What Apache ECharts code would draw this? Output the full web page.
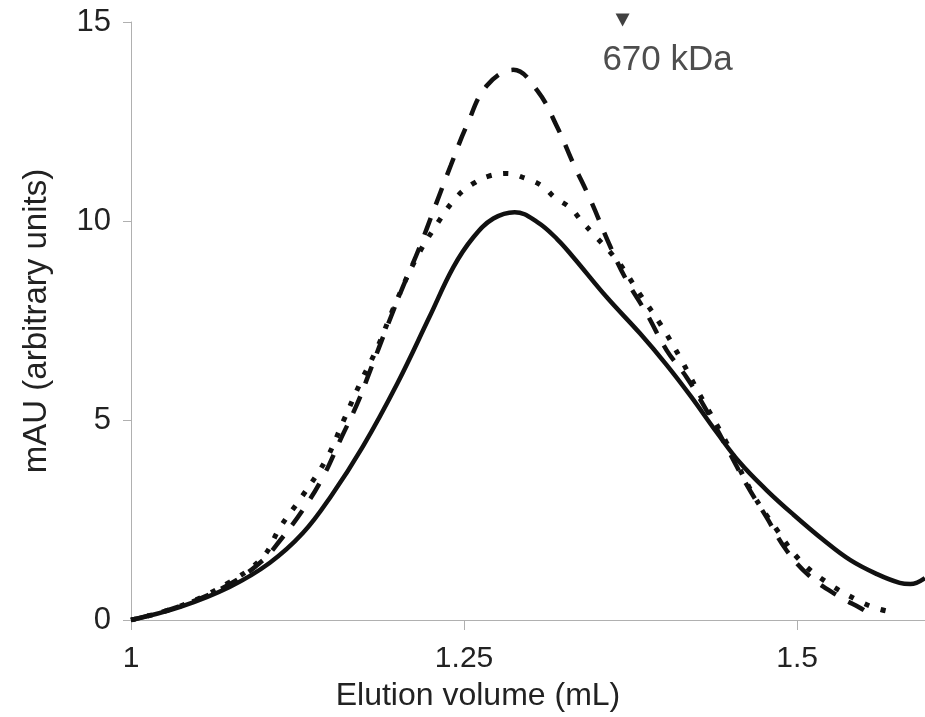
<!DOCTYPE html>
<html>
<head>
<meta charset="utf-8">
<script src="https://cdn.jsdelivr.net/npm/echarts@6/dist/echarts.min.js"></script>
<style>
  html, body { margin: 0; padding: 0; background: #fff; }
  #chart { width: 925px; height: 717px; }
</style>
</head>
<body>
<div id="chart"></div>
<script>
// elution traces: [volume (mL), mAU]
const solidTrace = [
  [1.000, 0], [1.037, 0.33], [1.074, 0.83], [1.104, 1.43], [1.129, 2.18],
  [1.150, 3.1], [1.174, 4.35], [1.200, 5.94], [1.224, 7.6], [1.242, 8.85],
  [1.257, 9.6], [1.272, 10.07], [1.288, 10.23], [1.305, 9.98], [1.320, 9.55],
  [1.332, 9.1], [1.357, 8.1], [1.382, 7.19], [1.402, 6.4], [1.420, 5.62],
  [1.440, 4.69], [1.457, 3.95], [1.477, 3.26], [1.497, 2.65], [1.520, 2.0],
  [1.540, 1.5], [1.560, 1.15], [1.577, 0.93], [1.585, 0.9], [1.596, 1.05]
];
const dashedTrace = [
  [1.000, 0], [1.037, 0.35], [1.074, 0.9], [1.099, 1.5], [1.112, 2.0],
  [1.129, 2.76], [1.144, 3.58], [1.157, 4.51], [1.170, 5.44], [1.180, 6.3],
  [1.192, 7.34], [1.204, 8.35], [1.216, 9.3], [1.228, 10.35], [1.240, 11.4],
  [1.252, 12.4], [1.267, 13.4], [1.287, 13.8], [1.305, 13.28], [1.320, 12.36],
  [1.332, 11.45], [1.345, 10.53], [1.360, 9.35], [1.372, 8.52], [1.387, 7.69],
  [1.402, 6.77], [1.417, 6.09], [1.432, 5.26], [1.447, 4.34], [1.462, 3.4],
  [1.477, 2.58], [1.492, 1.75], [1.510, 1.08], [1.532, 0.58], [1.553, 0.18],
  [1.556, 0.0]
];
const dottedTrace = [
  [1.000, 0], [1.037, 0.35], [1.074, 0.95], [1.099, 1.58], [1.112, 2.33],
  [1.128, 3.08], [1.147, 4.06], [1.159, 4.96], [1.172, 5.94], [1.185, 6.84],
  [1.197, 7.82], [1.213, 9.0], [1.230, 9.95], [1.245, 10.63], [1.257, 10.95],
  [1.268, 11.13], [1.282, 11.2], [1.296, 11.08], [1.309, 10.88], [1.318, 10.6],
  [1.330, 10.33], [1.339, 9.97], [1.348, 9.65], [1.366, 8.97], [1.381, 8.22],
  [1.397, 7.44], [1.412, 6.59], [1.426, 5.71], [1.447, 4.45], [1.467, 3.15],
  [1.484, 2.3], [1.502, 1.5], [1.522, 0.95], [1.545, 0.5], [1.559, 0.3],
  [1.574, 0.18]
];
const xTicks = [1, 1.25, 1.5];
const yTicks = [0, 5, 10, 15];
// size standard marker
const markerPos = [1.369, 15.05];
const markerText = '670 kDa';

const chart = echarts.init(document.getElementById('chart'));
const font = 'Liberation Sans, Arial, sans-serif';

const axisGray = '#b0b0b0';

chart.setOption({
  animation: false,
  grid: { left: 131, right: 0, top: 22, bottom: 97 },
  xAxis: {
    type: 'value',
    min: 1,
    max: 1.596,
    name: 'Elution volume (mL)',
    nameLocation: 'middle',
    nameGap: 60,
    // title sits left of the axis middle in the original
    nameTextStyle: { fontFamily: font, fontSize: 32, color: '#222', padding: [0, 100, 0, 0] },
    axisLine: { show: true, onZero: false, lineStyle: { color: axisGray, width: 1 } },
    axisTick: { show: true, length: 10, customValues: xTicks, lineStyle: { color: axisGray } },
    axisLabel: {
      customValues: xTicks,
      margin: 24,
      fontFamily: font, fontSize: 30, color: '#222',
      formatter: v => String(v)
    },
    splitLine: { show: false }
  },
  yAxis: {
    type: 'value',
    min: 0,
    max: 15,
    interval: 5,
    name: 'mAU (arbitrary units)',
    nameLocation: 'middle',
    nameGap: 78,
    nameTextStyle: { fontFamily: font, fontSize: 33, color: '#222' },
    axisLine: { show: true, lineStyle: { color: axisGray, width: 1 } },
    axisTick: { show: true, length: 8, customValues: yTicks, lineStyle: { color: axisGray } },
    axisLabel: {
      customValues: yTicks,
      margin: 20,
      fontFamily: font, fontSize: 31, color: '#222'
    },
    splitLine: { show: false }
  },
  series: [
    {
      type: 'line', data: solidTrace, smooth: 0.4, symbol: 'none',
      lineStyle: { color: '#111', width: 4.5 }
    },
    {
      type: 'line', data: dashedTrace, smooth: 0.4, symbol: 'none',
      lineStyle: { color: '#111', width: 4.5, type: [18, 14] }
    },
    {
      type: 'line', data: dottedTrace, smooth: 0.4, symbol: 'none',
      lineStyle: { color: '#111', width: 5, type: [5, 12] }
    },
    {
      type: 'scatter',
      data: [markerPos],
      symbol: 'triangle',
      symbolRotate: 180,
      symbolSize: [14, 13],
      clip: false,
      itemStyle: { color: '#111' },
      label: {
        show: true,
        formatter: markerText,
        position: [52, 47],
        align: 'center',
        verticalAlign: 'middle',
        fontFamily: font, fontSize: 35, color: '#222'
      }
    }
  ]
});
</script>
</body>
</html>
